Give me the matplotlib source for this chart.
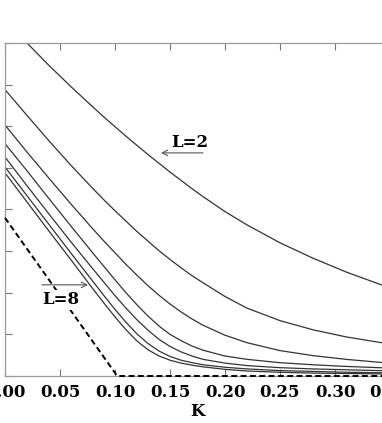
import matplotlib
matplotlib.use("Agg")
import matplotlib.pyplot as plt

# K grid shared by the finite-size curves
K = [0.00, 0.02, 0.04, 0.06, 0.08, 0.09, 0.10, 0.11, 0.12, 0.13, 0.14, 0.15, 0.16, 0.17,
     0.18, 0.20, 0.22, 0.25, 0.28, 0.31, 0.34, 0.35]

L2 = [8.55, 8.00, 7.46, 6.95, 6.46, 6.22, 5.99, 5.76, 5.54, 5.32, 5.11, 4.90, 4.70, 4.50,
      4.31, 3.95, 3.63, 3.20, 2.83, 2.50, 2.21, 2.12]
L3 = [6.88, 6.26, 5.65, 5.06, 4.50, 4.23, 3.97, 3.72, 3.47, 3.24, 3.01, 2.80, 2.60, 2.41,
      2.24, 1.91, 1.63, 1.33, 1.11, 0.94, 0.81, 0.77]
L4 = [6.03, 5.38, 4.75, 4.13, 3.53, 3.24, 2.96, 2.68, 2.42, 2.17, 1.94, 1.73, 1.54, 1.37,
      1.22, 0.98, 0.80, 0.61, 0.49, 0.40, 0.33, 0.31]
L5 = [5.58, 4.93, 4.26, 3.60, 2.95, 2.63, 2.31, 2.00, 1.71, 1.44, 1.20, 1.00, 0.85, 0.72,
      0.62, 0.48, 0.40, 0.32, 0.27, 0.23, 0.20, 0.19]
L6 = [5.26, 4.57, 3.89, 3.22, 2.57, 2.25, 1.93, 1.63, 1.35, 1.10, 0.88, 0.71, 0.58, 0.48,
      0.40, 0.31, 0.25, 0.20, 0.17, 0.15, 0.13, 0.12]
L7 = [5.02, 4.33, 3.64, 2.95, 2.27, 1.93, 1.60, 1.29, 1.01, 0.78, 0.60, 0.47, 0.38, 0.32,
      0.27, 0.21, 0.17, 0.13, 0.11, 0.09, 0.08, 0.07]
L8 = [4.88, 4.18, 3.48, 2.79, 2.09, 1.75, 1.42, 1.11, 0.84, 0.63, 0.48, 0.38, 0.31, 0.26,
      0.22, 0.16, 0.12, 0.09, 0.07, 0.06, 0.05, 0.05]
curves = [L2, L3, L4, L5, L6, L7, L8]

# infinite-size limit (dashed)
K_inf = [0.000, 0.102, 0.360]
Y_inf = [3.80, 0.00, 0.00]

xticks = [0.00, 0.05, 0.10, 0.15, 0.20, 0.25, 0.30, 0.35]
xticklabels = ["0.00", "0.05", "0.10", "0.15", "0.20", "0.25", "0.30", "0.35"]
yticks = [0, 1, 2, 3, 4, 5, 6, 7, 8]

W, H = 382, 423
fig = plt.figure(figsize=(W / 100, H / 100), dpi=100)
ax = fig.add_axes([5 / W, (H - 376) / H, 385 / W, 333 / H])

line_col = "#333333"
for c in curves:
    ax.plot(K, c, color=line_col, lw=0.9, solid_joinstyle="round")
ax.plot(K_inf, Y_inf, color="black", lw=1.4, ls=(0, (3.0, 1.8)), clip_on=False, zorder=3)

ax.set_xlim(0, 0.35)
ax.set_ylim(0, 8)
ax.set_xticks(xticks)
ax.set_xticklabels(xticklabels)
ax.set_yticks(yticks)
ax.set_yticklabels([])

tfont = dict(family="DejaVu Serif", weight="bold", size=12)
for lab in ax.get_xticklabels():
    lab.set_fontfamily("DejaVu Serif")
    lab.set_fontweight("bold")
    lab.set_fontsize(12)

ax.tick_params(axis="both", direction="in", length=5, width=0.8, color="#777777",
               top=True, right=False, bottom=True, left=True, pad=6)
for s in ["top", "bottom", "left", "right"]:
    ax.spines[s].set_color("#999999")
    ax.spines[s].set_linewidth(0.9)

ax.set_xlabel("K", fontdict=tfont, labelpad=1)

# annotations
ax.annotate("", xy=(0.1418, 5.36), xytext=(0.1800, 5.36),
            arrowprops=dict(arrowstyle="->", color="#555555", lw=0.8, shrinkA=0, shrinkB=0))
ax.text(0.1682, 5.60, "L=2", ha="center", va="center", **tfont)

ax.annotate("", xy=(0.0755, 2.19), xytext=(0.0336, 2.19),
            arrowprops=dict(arrowstyle="->", color="#555555", lw=0.8, shrinkA=0, shrinkB=0))
ax.text(0.0509, 1.83, "L=8", ha="center", va="center",
        bbox=dict(facecolor="white", edgecolor="none", pad=1.0), zorder=5, **tfont)

fig.savefig("out.png", dpi=100)
